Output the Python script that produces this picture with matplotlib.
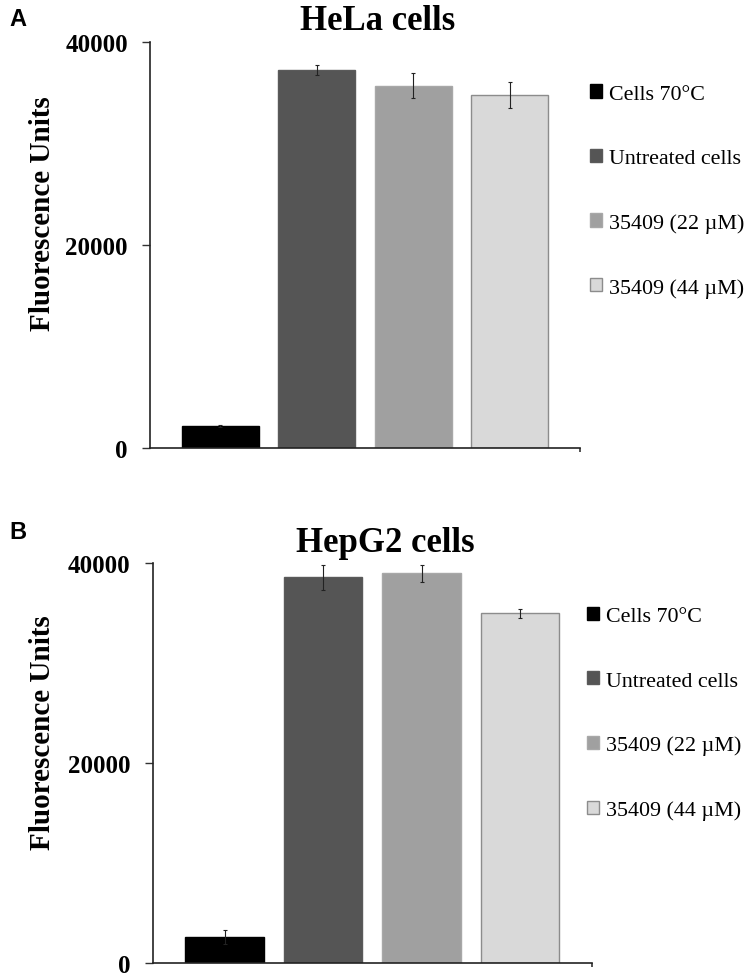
import numpy as np
import matplotlib
matplotlib.use("Agg")
import matplotlib.pyplot as plt

labels = ['Cells 70°C', 'Untreated cells', '35409 (22 µM)', '35409 (44 µM)']
colors = ['#000000', '#555555', '#a0a0a0', '#d9d9d9']
edges = ['#000000', '#5a5a5a', '#a8a8a8', '#8c8c8c']

hela_means = [2200, 37200, 35700, 34800]
hela_err = [100, 500, 1250, 1300]
hepg2_means = [2600, 38600, 39000, 35000]
hepg2_err = [700, 1250, 850, 450]

serif = 'Liberation Serif'

fig = plt.figure(figsize=(7.55, 9.79), dpi=100)
ax1 = fig.add_axes([0.1987, 0.5414, 0.5695, 0.4147])
ax2 = fig.add_axes([0.2022, 0.0150, 0.5819, 0.4086])


def panel(ax, means, err, title, legend_y, legend_x):
    x = np.arange(len(means))
    bars = ax.bar(x, means, width=0.8, color=colors, edgecolor=edges, linewidth=1)
    ax.errorbar(x, means, yerr=err, fmt='none', ecolor='#222222',
                elinewidth=0.8, capsize=1.5, capthick=0.8)
    ax.set_xlim(-0.73, 3.73)
    ax.set_ylim(0, 40000)
    ax.set_yticks([0, 20000, 40000])
    ax.set_yticklabels(['0', '20000', '40000'], fontfamily=serif,
                       fontweight='bold', fontsize=18)
    ax.set_xticks([3.73])
    ax.set_xticklabels([''])
    ax.tick_params(axis='x', direction='out', length=3, width=1.2, color='#333333')
    ax.tick_params(axis='y', direction='out', length=6, width=1, pad=10,
                   color='#333333')
    for s in ['top', 'right']:
        ax.spines[s].set_visible(False)
    for s in ['left', 'bottom']:
        ax.spines[s].set_linewidth(1.2)
        ax.spines[s].set_color('#222222')
    ax.set_ylabel('Fluorescence Units', fontfamily=serif, fontweight='bold',
                  fontsize=21, va='center')
    ax.yaxis.set_label_coords(-0.251, 0.579)
    ax.set_title(title, fontfamily=serif, fontweight='bold', fontsize=25,
                 pad=9, x=0.53)
    ax.legend(bars, labels, loc='center left', bbox_to_anchor=(legend_x, legend_y),
              bbox_transform=fig.transFigure, frameon=False, borderpad=0,
              borderaxespad=0, labelspacing=2.05, handlelength=0.55,
              handleheight=0.55, handletextpad=0.3,
              prop={'family': serif, 'size': 15.8})


panel(ax1, hela_means, hela_err, 'HeLa cells', 0.8039, 0.7815)
panel(ax2, hepg2_means, hepg2_err, 'HepG2 cells', 0.2702, 0.7775)

fig.text(0.013, 1 - 8 / 979, 'A', fontfamily='Liberation Sans', fontweight='bold',
         fontsize=17, va='top', ha='left')
fig.text(0.013, 1 - 521 / 979, 'B', fontfamily='Liberation Sans', fontweight='bold',
         fontsize=17, va='top', ha='left')

fig.savefig('out.png', dpi=100)
